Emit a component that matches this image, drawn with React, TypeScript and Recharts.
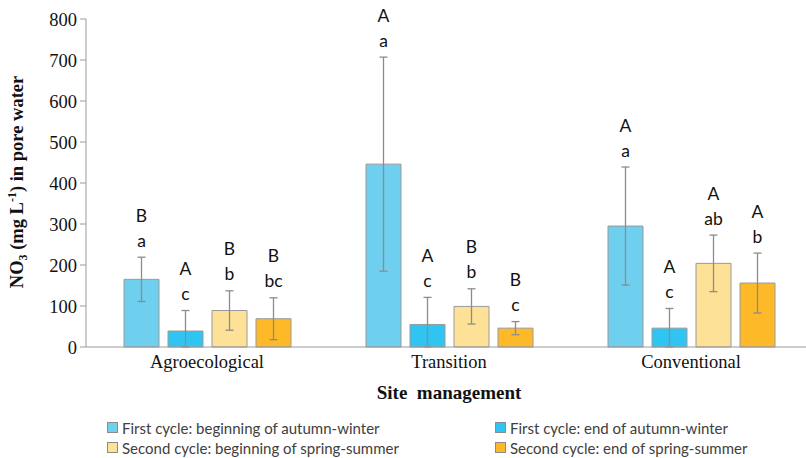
import React from "react"
import { BarChart, Bar, XAxis, YAxis, ErrorBar, LabelList } from "recharts"

const sites = ["Agroecological", "Transition", "Conventional"]

const seriesNames = [
  "First cycle: beginning of autumn-winter",
  "First cycle: end of autumn-winter",
  "Second cycle: beginning of spring-summer",
  "Second cycle: end of spring-summer",
]
const seriesColors = ["#6fcfee", "#2ec5f3", "#fde196", "#fdb928"]

// mean NO3 per series, one value per site
const firstBegin = [165, 446, 295]
const firstEnd = [39, 55, 46]
const secondBegin = [89, 99, 204]
const secondEnd = [69, 46, 156]

// standard deviations
const firstBeginSd = [54, 261, 144]
const firstEndSd = [50, 66, 48]
const secondBeginSd = [48, 43, 69]
const secondEndSd = [51, 16, 73]

// significance letters (upper = between sites, lower = between dates)
const firstBeginUpper = ["B", "A", "A"]
const firstBeginLower = ["a", "a", "a"]
const firstEndUpper = ["A", "A", "A"]
const firstEndLower = ["c", "c", "c"]
const secondBeginUpper = ["B", "B", "A"]
const secondBeginLower = ["b", "b", "ab"]
const secondEndUpper = ["B", "B", "A"]
const secondEndLower = ["bc", "c", "b"]

const yTicks = [0, 100, 200, 300, 400, 500, 600, 700, 800]

const means = [firstBegin, firstEnd, secondBegin, secondEnd]
const sds = [firstBeginSd, firstEndSd, secondBeginSd, secondEndSd]
const uppers = [firstBeginUpper, firstEndUpper, secondBeginUpper, secondEndUpper]
const lowers = [firstBeginLower, firstEndLower, secondBeginLower, secondEndLower]

const data = sites.map((site, i) => {
  const row: Record<string, any> = { site }
  means.forEach((m, s) => {
    row["s" + s] = m[i]
    // error bars stop at the x axis
    row["e" + s] = [Math.min(sds[s][i], m[i]), sds[s][i]]
  })
  return row
})

if (typeof document !== "undefined") document.body.style.margin = "0"

const W = 806
const H = 412
const TOP = 19
const XH = 65
const PX = (H - TOP - XH) / 800

const serif = "'Liberation Serif', 'Times New Roman', serif"
const sans = "Lato, 'Open Sans', sans-serif"

const letters = (upper: string[], lower: string[], sd: number[]) => (props: any) => {
  const x = Number(props.x)
  const y = Number(props.y)
  const w = Number(props.width)
  const i = props.index
  const cx = x + w / 2
  const top = y - sd[i] * PX
  return (
    <g fontFamily={sans} fontSize={17.5} fill="#111">
      <text x={cx} y={top - 17} textAnchor="middle" dominantBaseline="central">
        {lower[i]}
      </text>
      <text x={cx} y={top - 42} textAnchor="middle" dominantBaseline="central">
        {upper[i]}
      </text>
    </g>
  )
}

const YLabel = () => (
  <text
    transform="translate(23, 182) rotate(-90)"
    textAnchor="middle"
    fontFamily={serif}
    fontWeight="bold"
    fontSize={18.5}
    fill="#111"
  >
    NO<tspan fontSize={12} dy={4}>3</tspan>
    <tspan dy={-4}> (mg L</tspan>
    <tspan fontSize={12} dy={-7}>-1</tspan>
    <tspan dy={7}>) in pore water</tspan>
  </text>
)

export default function App() {
  return (
    <div style={{ position: "relative", width: W, height: 458, background: "#fff" }}>
      <BarChart
        width={W}
        height={H}
        data={data}
        margin={{ top: TOP, right: -6, bottom: 0, left: 0 }}
        barSize={35}
        barGap={9}
      >
        <XAxis
          dataKey="site"
          height={XH}
          tickLine={false}
          stroke="#9a9a9a"
          tick={{ fill: "#111", fontFamily: serif, fontSize: 18.5 }}
          label={{
            content: (p: any) => (
              <text
                x={p.viewBox.x + p.viewBox.width / 2}
                y={399}
                textAnchor="middle"
                fontFamily={serif}
                fontWeight="bold"
                fontSize={19}
                fill="#111"
                style={{ whiteSpace: "pre" }}
              >
                Site  management
              </text>
            ),
          }}
        />
        <YAxis
          width={86}
          domain={[0, 800]}
          ticks={yTicks}
          interval={0}
          stroke="#9a9a9a"
          tickSize={6}
          tickMargin={3}
          tick={{ fill: "#111", fontFamily: serif, fontSize: 18.5 }}
          label={{ content: () => <YLabel /> }}
        />
        {means.map((_, s) => (
          <Bar
            key={s}
            dataKey={"s" + s}
            fill={seriesColors[s]}
            stroke="#9a9a9a"
            strokeWidth={1}
            isAnimationActive={false}
          >
            <ErrorBar dataKey={"e" + s} direction="y" width={4} stroke="#8c8c8c" strokeWidth={1.3} />
            <LabelList dataKey={"s" + s} content={letters(uppers[s], lowers[s], sds[s])} />
          </Bar>
        ))}
      </BarChart>
      <div
        style={{
          position: "absolute",
          top: 418,
          left: 107,
          display: "grid",
          gridTemplateColumns: "388px auto",
          rowGap: 1,
          fontFamily: sans,
          fontSize: 15,
          color: "#404040",
        }}
      >
        {seriesNames.map((n, s) => (
          <div key={n} style={{ display: "flex", alignItems: "center", height: 19, whiteSpace: "nowrap" }}>
            <span
              style={{
                width: 9,
                height: 9,
                background: seriesColors[s],
                border: "1px solid #8c8c8c",
                marginRight: 4,
              }}
            />
            {n}
          </div>
        ))}
      </div>
    </div>
  )
}
